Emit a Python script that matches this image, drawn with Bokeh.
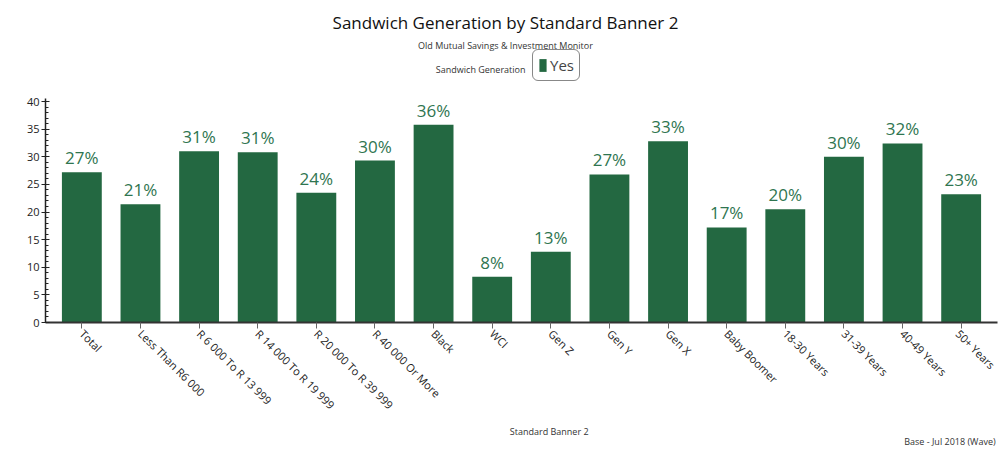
import math
from bokeh.plotting import figure
from bokeh.layouts import column
from bokeh.models import ColumnDataSource, Label, Legend, LegendItem, FixedTicker
from bokeh.core.properties import value
from bokeh.embed import file_html
from bokeh.resources import INLINE

categories = ["Total", "Less Than R6 000", "R 6 000 To R 13 999", "R 14 000 To R 19 999",
              "R 20 000 To R 39 999", "R 40 000 Or More", "Black", "WCI", "Gen Z", "Gen Y",
              "Gen X", "Baby Boomer", "18-30 Years", "31-39 Years", "40-49 Years", "50+ Years"]
values = [27.2, 21.4, 31.0, 30.8, 23.5, 29.3, 35.8, 8.3, 12.8, 26.8, 32.8, 17.2, 20.5, 30.0, 32.4, 23.2]
labels = ["27%", "21%", "31%", "31%", "24%", "30%", "36%", "8%", "13%", "27%",
          "33%", "17%", "20%", "30%", "32%", "23%"]
series_name = "Yes"
y_ticks = [0, 5, 10, 15, 20, 25, 30, 35, 40]

FONT = "Open Sans"
GREEN = "#236841"

W = 998
H1, H2 = 420, 30          # main chart height, footer strip height
FL, FB = 45, 322          # frame left / frame bottom on the canvas
PX_PER_UNIT = 5.525       # pixels per percentage point

src = ColumnDataSource(dict(cat=categories, val=values, lab=labels))

p = figure(x_range=categories, y_range=(0, FB / PX_PER_UNIT), width=W, height=H1,
           output_backend="svg", toolbar_location=None,
           min_border_left=FL, min_border_right=1, min_border_top=0, min_border_bottom=H1 - FB)
p.x_range.range_padding = 0.015
p.outline_line_color = None
p.grid.grid_line_color = None

r = p.vbar(x="cat", top="val", width=0.68, source=src, fill_color=GREEN, line_color=None)
p.text(x="cat", y="val", text="lab", source=src, text_align="center", text_baseline="bottom",
       y_offset=-3, text_font=value(FONT), text_font_size="17px", text_color="#2f7550")

# axes
p.yaxis.bounds = (0, 40.5)
p.yaxis.ticker = FixedTicker(ticks=y_ticks, minor_ticks=list(range(0, 41)))
p.yaxis.axis_line_color = "#222222"
p.yaxis.axis_line_width = 1.5
p.yaxis.major_tick_in = 4
p.yaxis.major_tick_out = 4
p.yaxis.minor_tick_in = 3
p.yaxis.minor_tick_out = 0
p.yaxis.major_tick_line_color = "#222222"
p.yaxis.minor_tick_line_color = "#222222"
p.yaxis.major_label_text_font = FONT
p.yaxis.major_label_text_font_size = "11px"
p.yaxis.major_label_text_color = "#222222"
p.yaxis.major_label_standoff = 2

p.xaxis.axis_line_color = "#333333"
p.xaxis.axis_line_width = 2
p.xaxis.major_tick_in = 0
p.xaxis.major_tick_out = 6
p.xaxis.major_tick_line_color = "#666666"
p.xaxis.major_label_orientation = -math.pi / 4
p.xaxis.major_label_text_font = FONT
p.xaxis.major_label_text_font_size = "11px"
p.xaxis.major_label_text_color = "#222222"
p.xaxis.major_label_standoff = 3

# texts (screen units are relative to the frame's bottom-left corner)
def add_label(text, x, y, size, align="center", color="#111111", angle=0):
    p.add_layout(Label(x=x - FL, y=FB - y, x_units="screen", y_units="screen", text=text,
                       text_font=FONT, text_font_size=size, text_align=align,
                       text_baseline="middle", text_color=color, angle=angle))

add_label("Sandwich Generation by Standard Banner 2", 505, 22, "17px")
add_label("Old Mutual Savings & Investment Monitor", 505, 45, "9px", color="#333333")
add_label("Sandwich Generation", 525, 69, "9px", align="right", color="#333333")
add_label("%", 14, 210, "8px", color="#333333", angle=math.pi / 2)

legend = Legend(items=[LegendItem(label=series_name, renderers=[r])],
                location=(532 - FL, FB - 81), orientation="horizontal",
                glyph_width=9, glyph_height=16, label_height=16, label_text_font=FONT,
                label_text_font_size="15px", label_standoff=3, padding=5, margin=0,
                border_line_color="#111111", border_line_width=1,
                background_fill_alpha=0)
try:
    legend.border_radius = 6
except Exception:
    pass
p.add_layout(legend, "center")

# footer strip with the axis title and the base note
f = figure(width=W, height=H2, x_range=(0, W), y_range=(H2, 0),
           x_axis_type=None, y_axis_type=None, output_backend="svg", toolbar_location=None,
           min_border_left=0, min_border_right=0, min_border_top=0, min_border_bottom=0)
f.outline_line_color = None
f.grid.grid_line_color = None
f.add_layout(Label(x=528, y=431 - H1, text="Standard Banner 2", text_font=FONT,
                   text_font_size="9px", text_align="center", text_baseline="middle",
                   text_color="#333333"))
f.add_layout(Label(x=996, y=441 - H1, text="Base - Jul 2018 (Wave)", text_font=FONT,
                   text_font_size="9px", text_align="right", text_baseline="middle",
                   text_color="#333333"))

layout = column(p, f, spacing=0)
open("out.html", "w").write(file_html(layout, INLINE))
